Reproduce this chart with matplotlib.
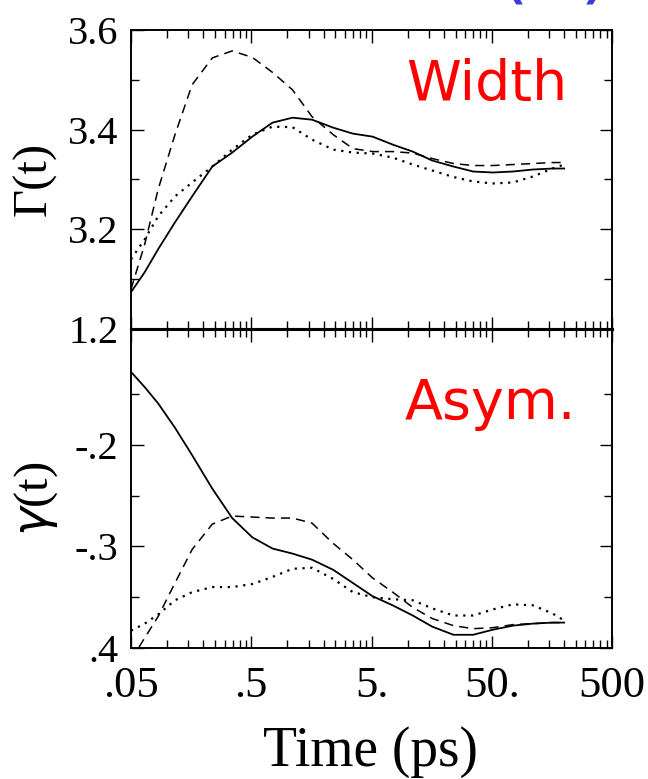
import matplotlib
matplotlib.use("Agg")
import matplotlib.pyplot as plt
from matplotlib.ticker import FixedLocator, FixedFormatter, NullFormatter

# time grid (ps)
time = [0.05, 0.065, 0.084, 0.116, 0.161, 0.237, 0.347, 0.51, 0.75, 1.1, 1.6, 2.4,
        3.5, 5.1, 7.5, 11, 16, 24, 35, 51, 75, 110, 160, 200]

# width Gamma(t)
width_solid = [3.074, 3.114, 3.16, 3.214, 3.266, 3.326, 3.354, 3.386, 3.414, 3.424, 3.42, 3.404,
               3.392, 3.386, 3.37, 3.356, 3.338, 3.326, 3.316, 3.314, 3.316, 3.32, 3.322, 3.322]
width_dashed = [3.08, 3.17, 3.28, 3.39, 3.49, 3.544, 3.558, 3.545, 3.515, 3.48, 3.426, 3.39,
                3.362, 3.356, 3.356, 3.353, 3.342, 3.332, 3.328, 3.328, 3.33, 3.332, 3.334, 3.334]
width_dotted = [3.14, 3.18, 3.226, 3.266, 3.294, 3.326, 3.36, 3.39, 3.406, 3.405, 3.38, 3.36,
                3.354, 3.352, 3.344, 3.33, 3.318, 3.305, 3.296, 3.292, 3.294, 3.306, 3.322, 3.33]

# asymmetry gamma(t)
asym_solid = [-0.128, -0.143, -0.159, -0.183, -0.21, -0.243, -0.272, -0.291, -0.302, -0.307, -0.313, -0.323,
              -0.336, -0.349, -0.358, -0.368, -0.379, -0.387, -0.387, -0.382, -0.378, -0.376, -0.375, -0.375]
asym_dashed = [-0.412, -0.39, -0.369, -0.336, -0.303, -0.278, -0.27, -0.271, -0.272, -0.272, -0.277, -0.297,
               -0.313, -0.331, -0.345, -0.36, -0.371, -0.378, -0.381, -0.38, -0.377, -0.376, -0.375, -0.375]
asym_dotted = [-0.383, -0.376, -0.367, -0.353, -0.345, -0.34, -0.34, -0.337, -0.33, -0.322, -0.321, -0.332,
               -0.345, -0.35, -0.352, -0.353, -0.361, -0.368, -0.368, -0.362, -0.357, -0.358, -0.366, -0.373]

xticks = [0.05, 0.5, 5, 50, 500]
xticklabels = [".05", ".5", "5.", "50.", "500"]
xminor = [k * 0.05 * 10 ** n for n in range(4) for k in range(2, 10)]

top_ticks = [3.0, 3.2, 3.4, 3.6]
top_labels = ["1.2", "3.2", "3.4", "3.6"]
bot_ticks = [-0.4, -0.3, -0.2]
bot_labels = [".4", "-.3", "-.2"]

plt.rcParams["font.family"] = ["Liberation Serif", "DejaVu Serif"]

fig = plt.figure(figsize=(6.48, 7.79), dpi=100)
ax1 = fig.add_axes([0.2022, 0.5777, 0.7423, 0.3838])
ax2 = fig.add_axes([0.2022, 0.1682, 0.7423, 0.4095])

styles = [dict(ls="-", lw=1.3), dict(ls=(0, (6, 4)), lw=1.1), dict(ls=(0, (1, 2.5)), lw=1.6)]
for ys, st in zip([width_solid, width_dashed, width_dotted], styles):
    ax1.plot(time, ys, color="black", **st)
for ys, st in zip([asym_solid, asym_dashed, asym_dotted], styles):
    ax2.plot(time, ys, color="black", **st)

for ax in (ax1, ax2):
    ax.set_xscale("log")
    ax.set_xlim(0.05, 500)
    ax.xaxis.set_major_locator(FixedLocator(xticks))
    ax.xaxis.set_minor_locator(FixedLocator(xminor))
    ax.xaxis.set_minor_formatter(NullFormatter())
    ax.tick_params(which="both", direction="in", top=True, right=True, width=1.0)
    ax.tick_params(which="major", length=9)
    ax.tick_params(which="minor", length=6)
    for s in ax.spines.values():
        s.set_linewidth(1.4)

ax1.set_ylim(3.0, 3.6)
ax1.yaxis.set_major_locator(FixedLocator(top_ticks))
ax1.yaxis.set_major_formatter(FixedFormatter(top_labels))
ax1.yaxis.set_minor_locator(FixedLocator([3.1, 3.3, 3.5]))
ax1.tick_params(axis="x", labelbottom=False)
ax1.tick_params(axis="y", labelsize=29, pad=9)
ax1.spines["bottom"].set_linewidth(2.2)

ax2.set_ylim(-0.4, -0.0857)
ax2.yaxis.set_major_locator(FixedLocator(bot_ticks))
ax2.yaxis.set_major_formatter(FixedFormatter(bot_labels))
ax2.yaxis.set_minor_locator(FixedLocator([-0.35, -0.25, -0.15]))
ax2.xaxis.set_major_formatter(FixedFormatter(xticklabels))
ax2.tick_params(axis="y", labelsize=29, pad=9)
ax2.tick_params(axis="x", labelsize=32, pad=13)
ax2.spines["top"].set_linewidth(2.2)

fig.text(0.054, 0.77, "Γ(t)", rotation=90, fontsize=35, ha="center", va="center")
fig.text(0.056, 0.36, "$\\gamma$(t)", rotation=90, fontsize=35, ha="center", va="center")
fig.text(0.571, 0.035, "Time (ps)", fontsize=40, ha="center", va="center")

fig.text(0.7515, 0.891, "Width", fontsize=40, color="#ff0000", family="DejaVu Sans",
         ha="center", va="center")
fig.text(0.756, 0.481, "Asym.", fontsize=40, color="#ff0000", family="DejaVu Sans",
         ha="center", va="center")
fig.text(0.856, 1.0 + 7 / 779, "(a)", fontsize=60, color="#3c3cd8", family="DejaVu Sans",
         ha="center", va="baseline")

fig.savefig("out.png", dpi=100)
